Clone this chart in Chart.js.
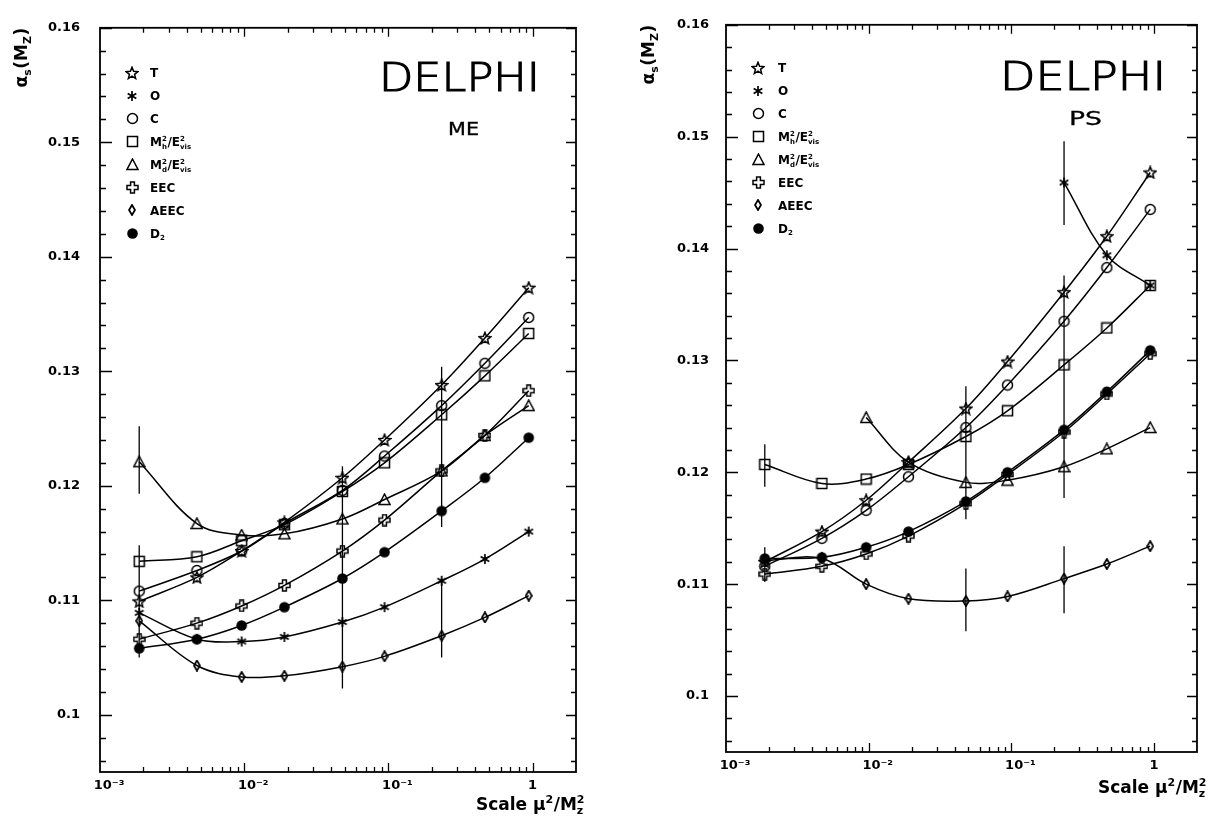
<!DOCTYPE html>
<html><head><meta charset="utf-8">
<script src="https://cdn.jsdelivr.net/npm/chart.js@4.4.0/dist/chart.umd.min.js"></script>
<style>
html,body{margin:0;padding:0;background:#fff;width:1212px;height:816px;overflow:hidden}
.p{position:absolute;top:0;width:606px;height:816px}
</style></head><body>
<div class="p" style="left:0"><canvas id="me" width="606" height="816"></canvas></div>
<div class="p" style="left:606px"><canvas id="ps" width="606" height="816"></canvas></div>
<script>
// ---------------- data ----------------
const scaleX = [0.00187, 0.0047, 0.0096, 0.019, 0.048, 0.094, 0.234, 0.467, 0.94];
const seriesLabels = ['T', 'O', 'C', 'M²h/E²vis', 'M²d/E²vis', 'EEC', 'AEEC', 'D2'];

// ME panel (matrix element)
const meT    = [0.1099, 0.1120, 0.1143, 0.1168, 0.1207, 0.1240, 0.1288, 0.1329, 0.1373];
const meO    = [0.1089, 0.1066, 0.1064, 0.1068, 0.1081, 0.1094, 0.1117, 0.1136, 0.1160];
const meC    = [0.1108, 0.1126, 0.1143, 0.1167, 0.1196, 0.1226, 0.1270, 0.1307, 0.1347];
const meMh   = [0.1134, 0.1138, 0.1152, 0.1166, 0.1195, 0.1220, 0.1262, 0.1296, 0.1333];
const meMd   = [0.1221, 0.1167, 0.1157, 0.1158, 0.1171, 0.1188, 0.1213, 0.1244, 0.1270];
const meEEC  = [0.1066, 0.1080, 0.1095, 0.1113, 0.1143, 0.1170, 0.1213, 0.1244, 0.1283];
const meAEEC = [0.1082, 0.1043, 0.1033, 0.1034, 0.1042, 0.1051, 0.1069, 0.1085, 0.1104];
const meD2   = [0.1058, 0.1066, 0.1078, 0.1094, 0.1119, 0.1142, 0.1178, 0.1207, 0.1242];
// vertical markers: [x, low, high]
const meBars = [[0.00187, 0.1193, 0.1252], [0.00187, 0.1050, 0.1148], [0.048, 0.1023, 0.1217],
                [0.234, 0.1164, 0.1304], [0.234, 0.1050, 0.1117]];

// PS panel (parton shower)
const psT    = [0.1120, 0.1147, 0.1175, 0.1209, 0.1257, 0.1299, 0.1361, 0.1411, 0.1468];
const psO    = [null, null, null, null, null, null, 0.1459, 0.1394, 0.1367];
const psC    = [0.1116, 0.1141, 0.1166, 0.1196, 0.1240, 0.1278, 0.1335, 0.1383, 0.1435];
const psMh   = [0.1207, 0.1190, 0.1194, 0.1207, 0.1232, 0.1255, 0.1296, 0.1329, 0.1367];
const psMd   = [null, null, 0.1249, 0.1209, 0.1191, 0.1193, 0.1205, 0.1221, 0.1240];
const psEEC  = [0.1109, 0.1116, 0.1127, 0.1143, 0.1172, 0.1198, 0.1236, 0.1270, 0.1306];
const psAEEC = [0.1121, 0.1123, 0.1100, 0.1087, 0.1085, 0.1089, 0.1105, 0.1118, 0.1134];
const psD2   = [0.1123, 0.1124, 0.1133, 0.1147, 0.1174, 0.1200, 0.1238, 0.1272, 0.1309];
const psBars = [[0.00187, 0.1187, 0.1225], [0.00187, 0.1102, 0.1133], [0.048, 0.1158, 0.1277],
                [0.048, 0.1058, 0.1114], [0.234, 0.1421, 0.1496], [0.234, 0.1177, 0.1376],
                [0.234, 0.1074, 0.1134]];

const xTickValues = [0.001, 0.01, 0.1, 1];
const xTickLabels = ['\u2007\u200710⁻³', '\u2007\u200710⁻²', '\u2007\u200710⁻¹', '1'];
const yTickValues = [0.10, 0.11, 0.12, 0.13, 0.14, 0.15, 0.16];
const yTickLabels = ['0.1', '0.11', '0.12', '0.13', '0.14', '0.15', '0.16'];

// ---------------- styling ----------------
const FAM = '"DejaVu Sans", sans-serif';
function mk(w, h, draw) {
  const c = document.createElement('canvas'); c.width = w; c.height = h;
  const g = c.getContext('2d'); g.strokeStyle = '#000'; g.fillStyle = '#000'; g.lineWidth = 1.5;
  draw(g); return c;
}
const markers = [
  mk(14, 14, g => { g.beginPath(); for (let i = 0; i < 10; i++) { const r = i % 2 ? 2.7 : 6.2; const a = -Math.PI / 2 + i * Math.PI / 5; const px = 7 + r * Math.cos(a), py = 7.5 + r * Math.sin(a); i ? g.lineTo(px, py) : g.moveTo(px, py); } g.closePath(); g.stroke(); }),
  mk(12, 12, g => { g.lineWidth = 1.7; g.beginPath(); for (let i = 0; i < 3; i++) { const a = Math.PI / 2 + i * Math.PI / 3; g.moveTo(6 + 5 * Math.cos(a), 6 + 5 * Math.sin(a)); g.lineTo(6 - 5 * Math.cos(a), 6 - 5 * Math.sin(a)); } g.stroke(); }),
  mk(13, 13, g => { g.beginPath(); g.arc(6.5, 6.5, 5, 0, Math.PI * 2); g.stroke(); }),
  mk(13, 13, g => { g.strokeRect(1.5, 1.5, 10, 10); }),
  mk(13, 13, g => { g.beginPath(); g.moveTo(6.5, 1); g.lineTo(12, 11.5); g.lineTo(1, 11.5); g.closePath(); g.stroke(); }),
  mk(13, 13, g => { const p = [[4.6,1],[8.4,1],[8.4,4.6],[12,4.6],[12,8.4],[8.4,8.4],[8.4,12],[4.6,12],[4.6,8.4],[1,8.4],[1,4.6],[4.6,4.6]]; g.beginPath(); p.forEach((q, i) => i ? g.lineTo(q[0], q[1]) : g.moveTo(q[0], q[1])); g.closePath(); g.stroke(); }),
  mk(8, 12, g => { g.lineWidth = 1.8; g.beginPath(); g.moveTo(4, 1); g.lineTo(7, 6); g.lineTo(4, 11); g.lineTo(1, 6); g.closePath(); g.stroke(); }),
  mk(13, 13, g => { g.beginPath(); g.arc(6.5, 6.5, 5.3, 0, Math.PI * 2); g.fill(); })
];
const legendRich = [
  ['T'], ['O'], ['C'],
  ['M', {sup: '2', sub: 'h'}, '/E', {sup: '2', sub: 'vis'}],
  ['M', {sup: '2', sub: 'd'}, '/E', {sup: '2', sub: 'vis'}],
  ['EEC'], ['AEEC'], ['D', {sub: '2'}]
];

function drawRich(ctx, parts, x, y, size, weight, measureOnly) {
  let cx = x;
  for (const p of parts) {
    if (typeof p === 'string') {
      ctx.font = `${weight} ${size}px ${FAM}`;
      if (!measureOnly) ctx.fillText(p, cx, y);
      cx += ctx.measureText(p).width;
    } else {
      const s = Math.round(size * 0.62);
      ctx.font = `${weight} ${s}px ${FAM}`;
      let w = 0;
      if (p.sup) { if (!measureOnly) ctx.fillText(p.sup, cx, y - size * 0.42); w = ctx.measureText(p.sup).width; }
      if (p.sub) { if (!measureOnly) ctx.fillText(p.sub, cx, y + size * 0.24); w = Math.max(w, ctx.measureText(p.sub).width); }
      cx += w + 0.5;
    }
  }
  return cx - x;
}
function drawFit(ctx, text, xRight, baseline, width, font, strokeW) {
  ctx.font = font;
  const m = ctx.measureText(text).width;
  ctx.save(); ctx.translate(xRight - width, baseline); ctx.scale(width / m, 1);
  ctx.fillText(text, 0, 0);
  if (strokeW) { ctx.lineWidth = strokeW; ctx.strokeText(text, 0, 0); }
  ctx.restore();
}

const decorPlugin = {
  id: 'decor',
  afterDraw(chart) {
    const o = chart.options.plugins.decor;
    const {ctx, chartArea: a, scales: {x, y}} = chart;
    ctx.save();
    ctx.strokeStyle = '#000'; ctx.fillStyle = '#000';
    // frame
    ctx.lineWidth = 1.8;
    ctx.strokeRect(a.left, a.top, a.right - a.left, a.bottom - a.top);
    // y ticks (inward, both sides)
    ctx.lineWidth = 1.3; ctx.beginPath();
    for (let k = 48; k <= 80; k++) {
      const v = k * 0.002; const py = Math.round(y.getPixelForValue(v)) + 0.5;
      const major = k % 5 === 0;
      ctx.moveTo(a.left, py); ctx.lineTo(a.left + (major ? 12 : 6), py);
      ctx.moveTo(a.right, py); ctx.lineTo(a.right - (major ? 10 : 5), py);
    }
    // x ticks (log, inward, bottom and top)
    for (let d = -3; d <= 0; d++) {
      for (let m = 1; m <= 9; m++) {
        const v = m * Math.pow(10, d);
        if (v <= 0.001 * 1.0001 || v >= 2) continue;
        const px = Math.round(x.getPixelForValue(v)) + 0.5;
        const len = m === 1 ? 9 : 5;
        ctx.moveTo(px, a.bottom); ctx.lineTo(px, a.bottom - len);
        ctx.moveTo(px, a.top); ctx.lineTo(px, a.top + len);
      }
    }
    ctx.stroke();
    // legend
    ctx.textBaseline = 'alphabetic';
    chart.data.datasets.forEach((ds, i) => {
      if (i >= markers.length) return;
      const my = a.top + o.legY + i * 22.9;
      const mx = a.left + o.legX;
      const img = markers[i];
      ctx.drawImage(img, Math.round(mx - img.width / 2), Math.round(my - img.height / 2));
      drawRich(ctx, legendRich[i], a.left + o.legLabelX, my + 4.5, 12, 'bold');
    });
    // DELPHI + panel tag
    drawFit(ctx, 'DELPHI', a.right - o.delR, a.top + o.delB, o.delW, `200 39px ${FAM}`, 1.1);
    drawFit(ctx, o.tag, a.right - o.tagR, a.top + o.tagB, o.tagW, `${o.tagSize}px ${FAM}`, 0.3);
    // y title (rotated)
    const yParts = ['α', {sub: 's'}, '(M', {sub: 'Z'}, ')'];
    const w = drawRich(ctx, yParts, 0, 0, 17, 'bold', true);
    ctx.save();
    ctx.translate(a.left - o.yTitleDX, a.top + w);
    ctx.rotate(-Math.PI / 2);
    drawRich(ctx, yParts, 0, 5, 17, 'bold');
    ctx.restore();
    // x title
    const xParts = ['Scale ', 'μ', {sup: '2'}, '/M', {sup: '2', sub: 'z'}];
    const wx = drawRich(ctx, xParts, 0, 0, 17, 'bold', true);
    drawRich(ctx, xParts, a.right + o.xTitleR - wx, a.bottom + o.xTitleB, 17, 'bold');
    ctx.restore();
  }
};

function build(id, series, bars, geo) {
  const datasets = [];
  series.forEach((vals, i) => {
    datasets.push({
      label: seriesLabels[i],
      data: scaleX.map((x, j) => ({x, y: vals[j]})).filter(p => p.y !== null),
      borderColor: '#000', borderWidth: 1.5, tension: 0.35, fill: false,
      pointStyle: markers[i], pointRadius: 5, backgroundColor: 'transparent'
    });
  });
  bars.forEach(b => datasets.push({
    label: '', data: [{x: b[0], y: b[1]}, {x: b[0], y: b[2]}],
    borderColor: '#000', borderWidth: 1.3, pointRadius: 0, tension: 0, fill: false
  }));
  const tickFont = {family: 'DejaVu Sans', size: 13, weight: 'bold'};
  return new Chart(document.getElementById(id), {
    type: 'line',
    data: {datasets},
    plugins: [decorPlugin],
    options: {
      responsive: false, animation: false, devicePixelRatio: 1,
      layout: {padding: {left: 0, right: geo.padR, top: geo.padT, bottom: 0}, autoPadding: false},
      scales: {
        x: {
          type: 'logarithmic', min: 0.001, max: 2,
          afterBuildTicks: s => { s.ticks = xTickValues.map(v => ({value: v})); },
          afterFit: s => { s.height = geo.xH; },
          grid: {display: false, drawTicks: false}, border: {display: false},
          ticks: {
            autoSkip: false, maxRotation: 0, minRotation: 0, padding: geo.xPad, color: '#000', font: tickFont,
            callback: v => { const i = xTickValues.findIndex(t => Math.abs(t - v) / t < 1e-6); return i >= 0 ? xTickLabels[i] : ''; }
          }
        },
        y: {
          type: 'linear', min: 0.095, max: 0.16,
          afterBuildTicks: s => { s.ticks = yTickValues.map(v => ({value: v})); },
          afterFit: s => { s.width = geo.yW; },
          grid: {display: false, drawTicks: false}, border: {display: false},
          ticks: {
            padding: geo.yPad, color: '#000', font: tickFont,
            callback: v => { const i = yTickValues.findIndex(t => Math.abs(t - v) < 1e-7); return i >= 0 ? yTickLabels[i] : ''; }
          }
        }
      },
      plugins: {
        legend: {display: false}, tooltip: {enabled: false},
        decor: geo.decor
      }
    }
  });
}

build('me', [meT, meO, meC, meMh, meMd, meEEC, meAEEC, meD2], meBars, {
  padR: 30, padT: 25, xH: 44, yW: 100, xPad: 6, yPad: 20,
  decor: {legX: 32, legY: 45, legLabelX: 50, delR: 36, delB: 63, delW: 161,
          tag: 'ME', tagR: 97, tagB: 107, tagW: 31, tagSize: 17,
          yTitleDX: 78, xTitleR: 9, xTitleB: 38}
});
build('ps', [psT, psO, psC, psMh, psMd, psEEC, psAEEC, psD2], psBars, {
  padR: 15, padT: 15, xH: 64, yW: 120, xPad: 6, yPad: 17,
  decor: {legX: 32, legY: 43, legLabelX: 52, delR: 31, delB: 65, delW: 166,
          tag: 'PS', tagR: 95, tagB: 100, tagW: 33, tagSize: 20,
          yTitleDX: 77, xTitleR: 10, xTitleB: 41}
});
</script>
</body></html>
